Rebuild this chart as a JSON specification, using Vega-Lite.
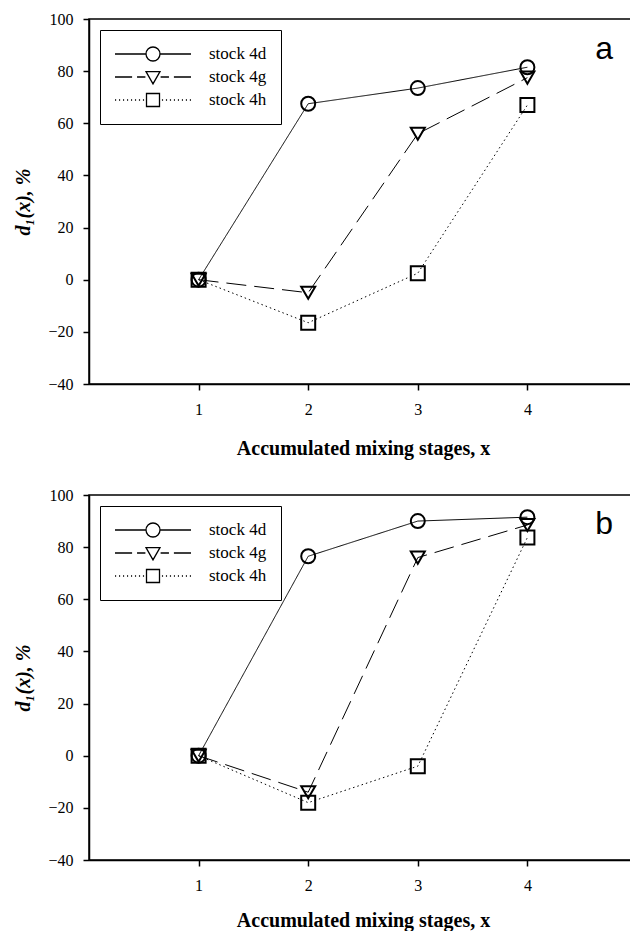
{
  "$schema": "https://vega.github.io/schema/vega-lite/v6.json",
  "background": "white",
  "padding": {"left": 13, "top": 10, "right": 0, "bottom": 0},
  "spacing": 27,
  "datasets": {
    "pts": [
      {"panel": "a", "stock": "stock 4d", "x": 1, "y": 0},
      {"panel": "a", "stock": "stock 4d", "x": 2, "y": 67.5},
      {"panel": "a", "stock": "stock 4d", "x": 3, "y": 73.5},
      {"panel": "a", "stock": "stock 4d", "x": 4, "y": 81.5},
      {"panel": "a", "stock": "stock 4g", "x": 1, "y": 0},
      {"panel": "a", "stock": "stock 4g", "x": 2, "y": -5},
      {"panel": "a", "stock": "stock 4g", "x": 3, "y": 56},
      {"panel": "a", "stock": "stock 4g", "x": 4, "y": 77.5},
      {"panel": "a", "stock": "stock 4h", "x": 1, "y": 0},
      {"panel": "a", "stock": "stock 4h", "x": 2, "y": -16.5},
      {"panel": "a", "stock": "stock 4h", "x": 3, "y": 2.5},
      {"panel": "a", "stock": "stock 4h", "x": 4, "y": 67},
      {"panel": "b", "stock": "stock 4d", "x": 1, "y": 0},
      {"panel": "b", "stock": "stock 4d", "x": 2, "y": 76.5},
      {"panel": "b", "stock": "stock 4d", "x": 3, "y": 90},
      {"panel": "b", "stock": "stock 4d", "x": 4, "y": 91.5},
      {"panel": "b", "stock": "stock 4g", "x": 1, "y": 0},
      {"panel": "b", "stock": "stock 4g", "x": 2, "y": -14},
      {"panel": "b", "stock": "stock 4g", "x": 3, "y": 76},
      {"panel": "b", "stock": "stock 4g", "x": 4, "y": 88.5},
      {"panel": "b", "stock": "stock 4h", "x": 1, "y": 0},
      {"panel": "b", "stock": "stock 4h", "x": 2, "y": -18},
      {"panel": "b", "stock": "stock 4h", "x": 3, "y": -4},
      {"panel": "b", "stock": "stock 4h", "x": 4, "y": 83.7}
    ]
  },
  "config": {
    "view": {"stroke": "black", "strokeWidth": 1.5},
    "font": "Liberation Serif",
    "title": {"font": "Liberation Sans", "fontSize": 32, "fontWeight": "normal", "color": "black", "anchor": "end", "frame": "group", "orient": "top", "baseline": "alphabetic", "dx": -24},
    "axis": {
      "grid": false,
      "domainColor": "black", "domainWidth": 1.5,
      "tickColor": "black", "tickWidth": 1.5, "tickSize": 6,
      "labelColor": "black", "labelFont": "Liberation Serif", "labelFontSize": 16,
      "titleColor": "black", "titleFont": "Liberation Serif", "titleFontSize": 20, "titleFontWeight": "bold"
    }
  },
  "vconcat": [
    {
      "title": {"text": "a", "offset": -55},
      "width": 548, "height": 365,
      "data": {"name": "pts"},
      "transform": [{"filter": "datum.panel == 'a'"}],
      "encoding": {
        "x": {"field": "x", "type": "quantitative", "scale": {"domain": [0, 5], "nice": false, "zero": false},
              "axis": {"values": [1, 2, 3, 4], "format": "d", "title": "Accumulated mixing stages, x", "labelPadding": 11, "titlePadding": 21}},
        "y": {"field": "y", "type": "quantitative", "scale": {"domain": [-40, 100], "nice": false},
              "axis": {"values": [-40, -20, 0, 20, 40, 60, 80, 100], "format": "d", "title": "d₁(x), %", "titleFontStyle": "italic", "labelPadding": 10, "titlePadding": 14}}
      },
      "layer": [
        {"mark": {"type": "line", "color": "black", "strokeWidth": 1},
         "encoding": {"strokeDash": {"field": "stock", "type": "nominal", "scale": {"domain": ["stock 4d", "stock 4g", "stock 4h"], "range": [[1, 0], [20, 8], [1.5, 3]]}, "legend": null}}},
        {"mark": {"type": "point", "filled": false, "color": "black", "strokeWidth": 2, "size": 196, "opacity": 1},
         "encoding": {"shape": {"field": "stock", "type": "nominal", "scale": {"domain": ["stock 4d", "stock 4g", "stock 4h"], "range": ["circle", "triangle-down", "square"]}, "legend": null}}},
        {"mark": {"type": "point", "filled": false, "color": "black", "opacity": 0},
         "encoding": {"shape": {"field": "stock", "type": "nominal",
           "scale": {"domain": ["stock 4d", "stock 4g", "stock 4h"], "range": [
             "M-1,0H-0.184M0.184,0H1M-0.184,0A0.184,0.184,0,1,0,0.184,0A0.184,0.184,0,1,0,-0.184,0Z",
             "M-1,0H-0.55M-0.42,0H-0.2M0.2,0H0.42M0.55,0H1M-0.184,-0.14L0.184,-0.14L0,0.18Z",
             "M-1,0h0.03M-0.895,0h0.03M-0.79,0h0.03M-0.685,0h0.03M-0.58,0h0.03M-0.475,0h0.03M-0.37,0h0.03M-0.265,0h0.03M0.235,0h0.03M0.34,0h0.03M0.445,0h0.03M0.55,0h0.03M0.655,0h0.03M0.76,0h0.03M0.865,0h0.03M0.97,0h0.03M-0.171,-0.171H0.171V0.171H-0.171Z"]},
           "legend": {"title": null, "orient": "top-left", "offset": 11, "padding": 14, "strokeColor": "black", "fillColor": "white",
             "symbolSize": 5776, "symbolStrokeWidth": 1.3, "symbolStrokeColor": "black", "symbolFillColor": "transparent", "symbolOpacity": 1,
             "clipHeight": 20, "rowPadding": 3, "labelOffset": 17, "labelFont": "Liberation Serif", "labelFontSize": 17, "labelColor": "black"}}}}
      ],
      "resolve": {"scale": {"shape": "independent"}}
    },
    {
      "title": {"text": "b", "offset": -54},
      "width": 548, "height": 365,
      "data": {"name": "pts"},
      "transform": [{"filter": "datum.panel == 'b'"}],
      "encoding": {
        "x": {"field": "x", "type": "quantitative", "scale": {"domain": [0, 5], "nice": false, "zero": false},
              "axis": {"values": [1, 2, 3, 4], "format": "d", "title": "Accumulated mixing stages, x", "labelPadding": 11, "titlePadding": 17}},
        "y": {"field": "y", "type": "quantitative", "scale": {"domain": [-40, 100], "nice": false},
              "axis": {"values": [-40, -20, 0, 20, 40, 60, 80, 100], "format": "d", "title": "d₁(x), %", "titleFontStyle": "italic", "labelPadding": 10, "titlePadding": 14}}
      },
      "layer": [
        {"mark": {"type": "line", "color": "black", "strokeWidth": 1},
         "encoding": {"strokeDash": {"field": "stock", "type": "nominal", "scale": {"domain": ["stock 4d", "stock 4g", "stock 4h"], "range": [[1, 0], [20, 8], [1.5, 3]]}, "legend": null}}},
        {"mark": {"type": "point", "filled": false, "color": "black", "strokeWidth": 2, "size": 196, "opacity": 1},
         "encoding": {"shape": {"field": "stock", "type": "nominal", "scale": {"domain": ["stock 4d", "stock 4g", "stock 4h"], "range": ["circle", "triangle-down", "square"]}, "legend": null}}},
        {"mark": {"type": "point", "filled": false, "color": "black", "opacity": 0},
         "encoding": {"shape": {"field": "stock", "type": "nominal",
           "scale": {"domain": ["stock 4d", "stock 4g", "stock 4h"], "range": [
             "M-1,0H-0.184M0.184,0H1M-0.184,0A0.184,0.184,0,1,0,0.184,0A0.184,0.184,0,1,0,-0.184,0Z",
             "M-1,0H-0.55M-0.42,0H-0.2M0.2,0H0.42M0.55,0H1M-0.184,-0.14L0.184,-0.14L0,0.18Z",
             "M-1,0h0.03M-0.895,0h0.03M-0.79,0h0.03M-0.685,0h0.03M-0.58,0h0.03M-0.475,0h0.03M-0.37,0h0.03M-0.265,0h0.03M0.235,0h0.03M0.34,0h0.03M0.445,0h0.03M0.55,0h0.03M0.655,0h0.03M0.76,0h0.03M0.865,0h0.03M0.97,0h0.03M-0.171,-0.171H0.171V0.171H-0.171Z"]},
           "legend": {"title": null, "orient": "top-left", "offset": 11, "padding": 14, "strokeColor": "black", "fillColor": "white",
             "symbolSize": 5776, "symbolStrokeWidth": 1.3, "symbolStrokeColor": "black", "symbolFillColor": "transparent", "symbolOpacity": 1,
             "clipHeight": 20, "rowPadding": 3, "labelOffset": 17, "labelFont": "Liberation Serif", "labelFontSize": 17, "labelColor": "black"}}}}
      ],
      "resolve": {"scale": {"shape": "independent"}}
    }
  ],
  "resolve": {"scale": {"x": "independent", "y": "independent", "shape": "independent", "strokeDash": "independent"}, "legend": {"shape": "independent"}}
}
